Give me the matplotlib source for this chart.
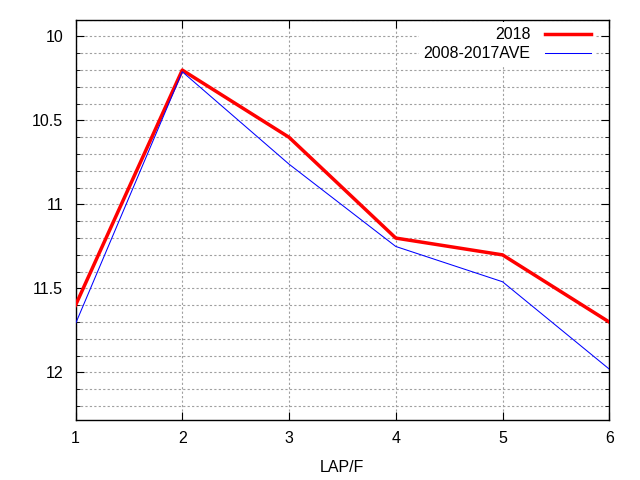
import matplotlib
matplotlib.use('Agg')
import matplotlib.pyplot as plt
from matplotlib.ticker import MultipleLocator, FormatStrFormatter

plt.rcParams['font.family'] = ['Liberation Sans', 'DejaVu Sans']

laps = [1, 2, 3, 4, 5, 6]
y2018 = [11.6, 10.2, 10.6, 11.2, 11.3, 11.7]
yave = [11.71, 10.21, 10.76, 11.25, 11.46, 11.98]

fig = plt.figure(figsize=(6.4, 4.8), dpi=100)
ax = fig.add_axes([0.118, 0.126, 0.834, 0.833])

ax.plot(laps, y2018, color='#ff0000', lw=2.5, label='2018', zorder=3)
ax.plot(laps, yave, color='#0000ff', lw=0.75, label='2008-2017AVE', zorder=3)

ax.set_xlim(1, 6)
ax.set_ylim(12.28, 9.9)
ax.xaxis.set_major_locator(MultipleLocator(1))
ax.yaxis.set_major_locator(MultipleLocator(0.5))
ax.yaxis.set_minor_locator(MultipleLocator(0.1))
ax.yaxis.set_major_formatter(FormatStrFormatter('%g'))
ax.grid(True, which='both', axis='y', color='#a0a0a0', ls=(0, (2, 2)), lw=0.8)
ax.grid(True, which='major', axis='x', color='#a0a0a0', ls=(0, (2, 2)), lw=0.8)
ax.tick_params(which='both', direction='in', top=True, right=True, labelsize=11.5)
ax.tick_params(axis='y', pad=9)
ax.tick_params(axis='x', pad=8)
ax.tick_params(which='major', length=6)
ax.tick_params(which='minor', length=3)
for s in ax.spines.values():
    s.set_linewidth(1)

ax.set_xlabel('LAP/F', fontsize=11.5)
ax.xaxis.set_label_coords(0.5, -0.1)

leg = ax.legend(loc='upper right', bbox_to_anchor=(0.975, 0.993), markerfirst=False,
                frameon=True, fontsize=11.5, handlelength=2.9, handletextpad=0.9,
                borderaxespad=0, borderpad=0.3, labelspacing=0.25, fancybox=False,
                edgecolor='none', facecolor='white', framealpha=1)
for t in leg.get_texts():
    t.set_ha('right')

fig.savefig('out.png', dpi=100)
